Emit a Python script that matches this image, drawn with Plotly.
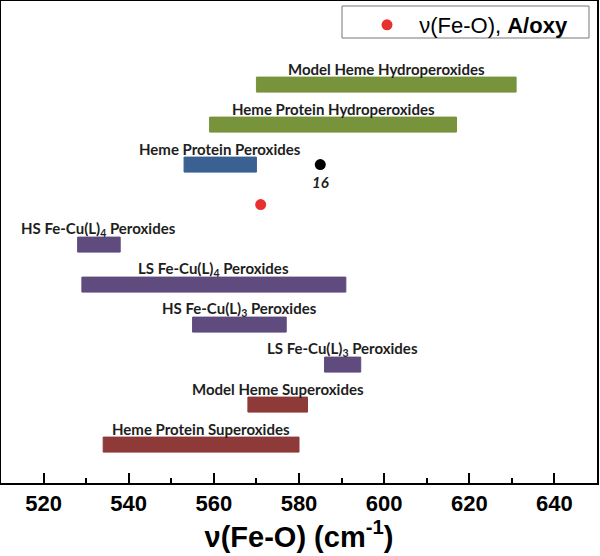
import plotly.graph_objects as go

# ranges of nu(Fe-O) in cm-1, listed from the top row to the bottom row
labels = [
    "Model Heme Hydroperoxides",
    "Heme Protein Hydroperoxides",
    "Heme Protein Peroxides",
    "HS Fe-Cu(L)<sub>4</sub> Peroxides",
    "LS Fe-Cu(L)<sub>4</sub> Peroxides",
    "HS Fe-Cu(L)<sub>3</sub> Peroxides",
    "LS Fe-Cu(L)<sub>3</sub> Peroxides",
    "Model Heme Superoxides",
    "Heme Protein Superoxides",
]
range_lo = [570, 559, 553, 528, 529, 555, 586, 568, 534]
range_hi = [631, 617, 570, 538, 591, 577, 594.5, 582, 580]
rows = [10, 9, 8, 6, 5, 4, 3, 2, 1]
bar_colors = ["#77933c", "#77933c", "#3b6192",
              "#5f4b7d", "#5f4b7d", "#5f4b7d", "#5f4b7d",
              "#8e3a38", "#8e3a38"]

# single points
aoxy_x = [571]
aoxy_row = [7]
ref16_x = [585]
ref16_row = [8]
ref16_label = "16"

fig = go.Figure()

fig.add_trace(go.Bar(
    orientation="h",
    y=rows,
    x=[h - l for l, h in zip(range_lo, range_hi)],
    base=range_lo,
    width=0.375,
    marker=dict(color=bar_colors, line=dict(color=bar_colors, width=1)),
    showlegend=False,
    hoverinfo="skip",
))

fig.add_trace(go.Scatter(
    x=ref16_x, y=ref16_row, mode="markers",
    marker=dict(color="black", size=11),
    showlegend=False,
))

fig.add_trace(go.Scatter(
    x=aoxy_x, y=aoxy_row, mode="markers",
    marker=dict(color="#e8312f", size=11),
    name="&nbsp;&nbsp;ν(Fe-O), <b>A/oxy</b>",
))

# labels centred above each bar
for lab, lo, hi, r in zip(labels, range_lo, range_hi, rows):
    fig.add_annotation(
        x=(lo + hi) / 2, y=r + 0.39, text="<b>" + lab + "</b>",
        showarrow=False, yanchor="middle",
        font=dict(family="Lato", size=15, color="#1e1e1e"),
    )

fig.add_annotation(
    x=ref16_x[0], y=ref16_row[0] - 0.43, text="<b><i>" + ref16_label + "</i></b>",
    showarrow=False, yanchor="middle",
    font=dict(family="Lato", size=15, color="#1e1e1e"),
)

# legend frame
fig.add_shape(type="rect", xref="paper", yref="paper",
              x0=(342 - 1) / 596, x1=(589 - 1) / 596,
              y0=1 - 37 / 482, y1=1 - 5 / 482,
              line=dict(color="#777777", width=1), fillcolor="white", layer="below")

fig.update_layout(
    width=600, height=556,
    margin=dict(l=1, r=3, t=1, b=73),
    plot_bgcolor="white", paper_bgcolor="white",
    font=dict(family="Liberation Sans", color="black"),
    showlegend=True,
    legend=dict(x=(367 - 1) / 596, y=1 - 3 / 482, xanchor="left", yanchor="top",
                bgcolor="rgba(0,0,0,0)", borderwidth=0,
                font=dict(family="Liberation Sans", size=22, color="black")),
    xaxis=dict(
        range=[510, 650], dtick=20, tick0=520, automargin=False,
        ticks="inside", ticklen=10, tickwidth=2, tickcolor="black",
        minor=dict(ticks="inside", ticklen=5, tickwidth=2, dtick=10, tick0=520, tickcolor="black"),
        showline=True, linecolor="black", linewidth=2, mirror=True,
        showgrid=False, zeroline=False,
        tickfont=dict(family="Liberation Sans", size=22, color="black"),
        tickprefix="<b>", ticksuffix="</b>",
        title=dict(text="<b>ν(Fe-O) (cm<sup>-1</sup>)</b>",
                   font=dict(family="Liberation Sans", size=29, color="black"),
                   standoff=10),
    ),
    yaxis=dict(
        range=[0.04, 12.09], showticklabels=False, ticks="", automargin=False,
        showline=True, linecolor="black", linewidth=2, mirror=True,
        showgrid=False, zeroline=False,
    ),
)

# page body has a default 8px margin; remove it so the figure sits at 0,0
fig.write_html("out.html", config={"displayModeBar": False},
               post_script="document.body.style.margin='0';")
